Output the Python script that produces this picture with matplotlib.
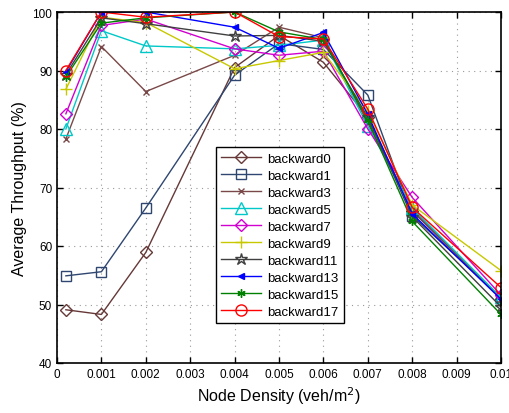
import numpy as np
import matplotlib
matplotlib.use("Agg")
import matplotlib.pyplot as plt

plt.rcParams['font.family'] = ['Liberation Sans', 'DejaVu Sans']

density = [0.0002, 0.001, 0.002, 0.004, 0.005, 0.006, 0.007, 0.008, 0.01]

backward0 = [49.1, 48.3, 58.9, 90.5, 96.0, 91.4, 82.0, 66.0, 51.0]
backward1 = [54.9, 55.6, 66.5, 89.2, 94.6, 93.6, 85.8, 65.2, 51.2]
backward3 = [78.3, 94.1, 86.4, 92.6, 97.4, 95.6, 81.0, 66.2, 51.0]
backward5 = [80.0, 96.8, 94.2, 93.7, 94.3, 95.2, 80.5, 66.5, 51.2]
backward7 = [82.6, 97.7, 98.8, 93.7, 92.6, 93.3, 80.0, 68.3, 51.6]
backward9 = [86.8, 99.1, 98.2, 90.3, 91.7, 93.1, 83.0, 67.0, 55.8]
backward11 = [89.3, 99.0, 98.0, 95.9, 96.0, 95.0, 82.0, 65.0, 49.6]
backward13 = [89.8, 100.0, 100.0, 97.4, 93.8, 96.5, 82.5, 65.5, 50.9]
backward15 = [88.9, 98.1, 99.0, 100.0, 96.6, 95.3, 81.5, 64.2, 48.3]
backward17 = [90.0, 100.0, 99.1, 100.0, 95.8, 95.4, 83.4, 66.6, 52.9]

# name, values, colour, marker, marker size, face
series = [
    ("backward0", backward0, '#663838', 'D', 6, 'none'),
    ("backward1", backward1, '#2f4670', 's', 7, 'none'),
    ("backward3", backward3, '#7a4848', 'x', 5, 'none'),
    ("backward5", backward5, '#00c8c8', '^', 8, 'none'),
    ("backward7", backward7, '#d000d0', 'D', 6, 'none'),
    ("backward9", backward9, '#c8c800', '+', 8, 'none'),
    ("backward11", backward11, '#404040', '*', 9, 'none'),
    ("backward13", backward13, '#0000ff', '<', 5, None),
    ("backward15", backward15, '#008000', (6, 2, 0), 6, None),
    ("backward17", backward17, '#ff0000', 'o', 8, 'none'),
]

fig = plt.figure(figsize=(5.1, 4.14), dpi=100)
ax = fig.add_axes([57/510, 1 - 364/414, 444/510, 351/414])

for name, vals, c, m, ms, fc in series:
    kw = dict(color=c, marker=m, lw=1.0, ms=ms, mew=1.0, label=name)
    if fc is not None:
        kw['mfc'] = fc
    ax.plot(density, vals, **kw)

ax.set_xlim(0, 0.01)
ax.set_ylim(40, 100)
ax.set_xticks(np.arange(0, 0.0101, 0.001))
ax.set_xticklabels(["0"] + ["%.3f" % v for v in np.arange(0.001, 0.0096, 0.001)] + ["0.01"])
ax.set_yticks(range(40, 101, 10))
ax.tick_params(direction='in', top=True, right=True, labelsize=8.5, length=4, width=1)
ax.grid(True, ls=(0, (1, 4)), color='#999999', lw=0.8)
for sp in ax.spines.values():
    sp.set_linewidth(1.2)

ax.set_xlabel("Node Density (veh/m$^2$)", fontsize=11.5, labelpad=3)
ax.set_ylabel("Average Throughput (%)", fontsize=11.5, labelpad=4)

leg = ax.legend(loc='upper left', bbox_to_anchor=(0.358, 0.615), borderaxespad=0,
                fontsize=9.5, fancybox=False, edgecolor='black', framealpha=1,
                handlelength=3.0, labelspacing=0.36, borderpad=0.4, handletextpad=0.5)
leg.get_frame().set_linewidth(1.0)

fig.savefig("out.png", dpi=100)
